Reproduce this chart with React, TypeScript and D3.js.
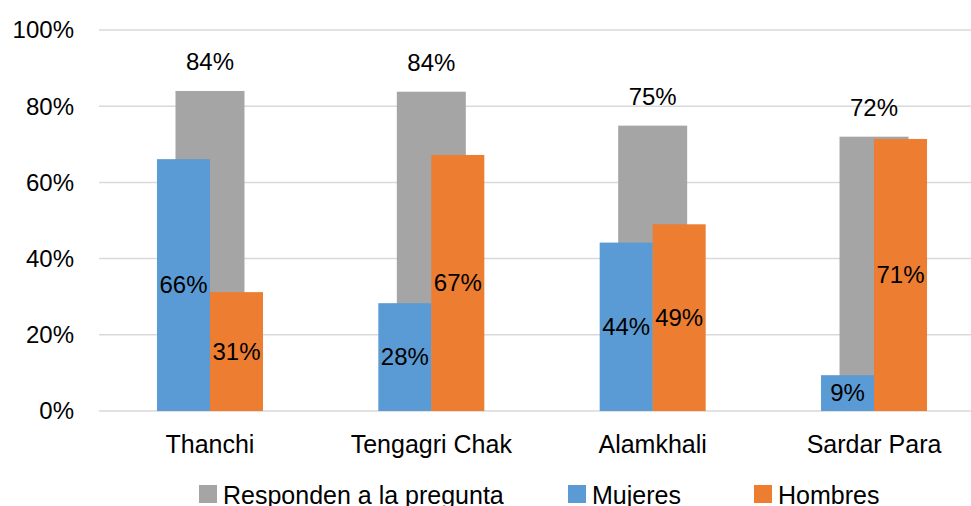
import React from "react";
import * as d3 from "d3";

const categories = ["Thanchi", "Tengagri Chak", "Alamkhali", "Sardar Para"];
const responden = [0.84, 0.838, 0.749, 0.72];
const mujeres = [0.661, 0.283, 0.442, 0.094];
const hombres = [0.312, 0.672, 0.49, 0.714];
const yTicks = [0, 0.2, 0.4, 0.6, 0.8, 1.0];
const legendItems = [
  { label: "Responden a la pregunta", color: "#A5A5A5", x: 199 },
  { label: "Mujeres", color: "#5B9BD5", x: 568 },
  { label: "Hombres", color: "#ED7D31", x: 754 },
];

const W = 971;
const H = 506;
const FONT = "Arial, 'Liberation Sans', Helvetica, sans-serif";

export default function App() {
  const x = d3.scaleBand<string>().domain(categories).range([99.3, 984.7]).padding(0);
  const y = d3.scaleLinear().domain([0, 1]).range([411, 30]);
  const fmt = (v: number) => `${Math.round(v * 100)}%`;
  const cx = (c: string) => (x(c) as number) + x.bandwidth() / 2;
  const grayW = 69;
  const barW = 53;

  return (
    <svg
      width={W}
      height={H}
      style={{ position: "absolute", left: 0, top: 0 }}
      fontFamily={FONT}
    >
      <rect x={0} y={0} width={W} height={H} fill="#fff" />
      {yTicks.map((t) => (
        <g key={t}>
          <line x1={99} x2={W} y1={y(t)} y2={y(t)} stroke="#D9D9D9" strokeWidth={1.5} />
          <text x={74} y={y(t)} dy="0.35em" textAnchor="end" fontSize={24} fill="#000">
            {fmt(t)}
          </text>
        </g>
      ))}
      {categories.map((c, i) => (
        <g key={c}>
          <rect
            x={cx(c) - grayW / 2}
            width={grayW}
            y={y(responden[i])}
            height={y(0) - y(responden[i])}
            fill="#A5A5A5"
          />
          <text x={cx(c)} y={y(responden[i]) - 21} textAnchor="middle" fontSize={24} fill="#000">
            {fmt(responden[i])}
          </text>
        </g>
      ))}
      {categories.map((c, i) => (
        <g key={c + "-mh"}>
          <rect
            x={cx(c) - barW}
            width={barW}
            y={y(mujeres[i])}
            height={y(0) - y(mujeres[i])}
            fill="#5B9BD5"
          />
          <rect
            x={cx(c)}
            width={barW}
            y={y(hombres[i])}
            height={y(0) - y(hombres[i])}
            fill="#ED7D31"
          />
          <text
            x={cx(c) - barW / 2}
            y={(y(mujeres[i]) + y(0)) / 2}
            dy="0.35em"
            textAnchor="middle"
            fontSize={24}
            fill="#000"
          >
            {fmt(mujeres[i])}
          </text>
          <text
            x={cx(c) + barW / 2}
            y={(y(hombres[i]) + y(0)) / 2}
            dy="0.35em"
            textAnchor="middle"
            fontSize={24}
            fill="#000"
          >
            {fmt(hombres[i])}
          </text>
          <text x={cx(c)} y={453} textAnchor="middle" fontSize={25} fill="#000">
            {c}
          </text>
        </g>
      ))}
      {legendItems.map((l) => (
        <g key={l.label}>
          <rect x={l.x} y={485} width={18} height={18} fill={l.color} />
          <text x={l.x + 24} y={504} fontSize={25} fill="#000">
            {l.label}
          </text>
        </g>
      ))}
    </svg>
  );
}
